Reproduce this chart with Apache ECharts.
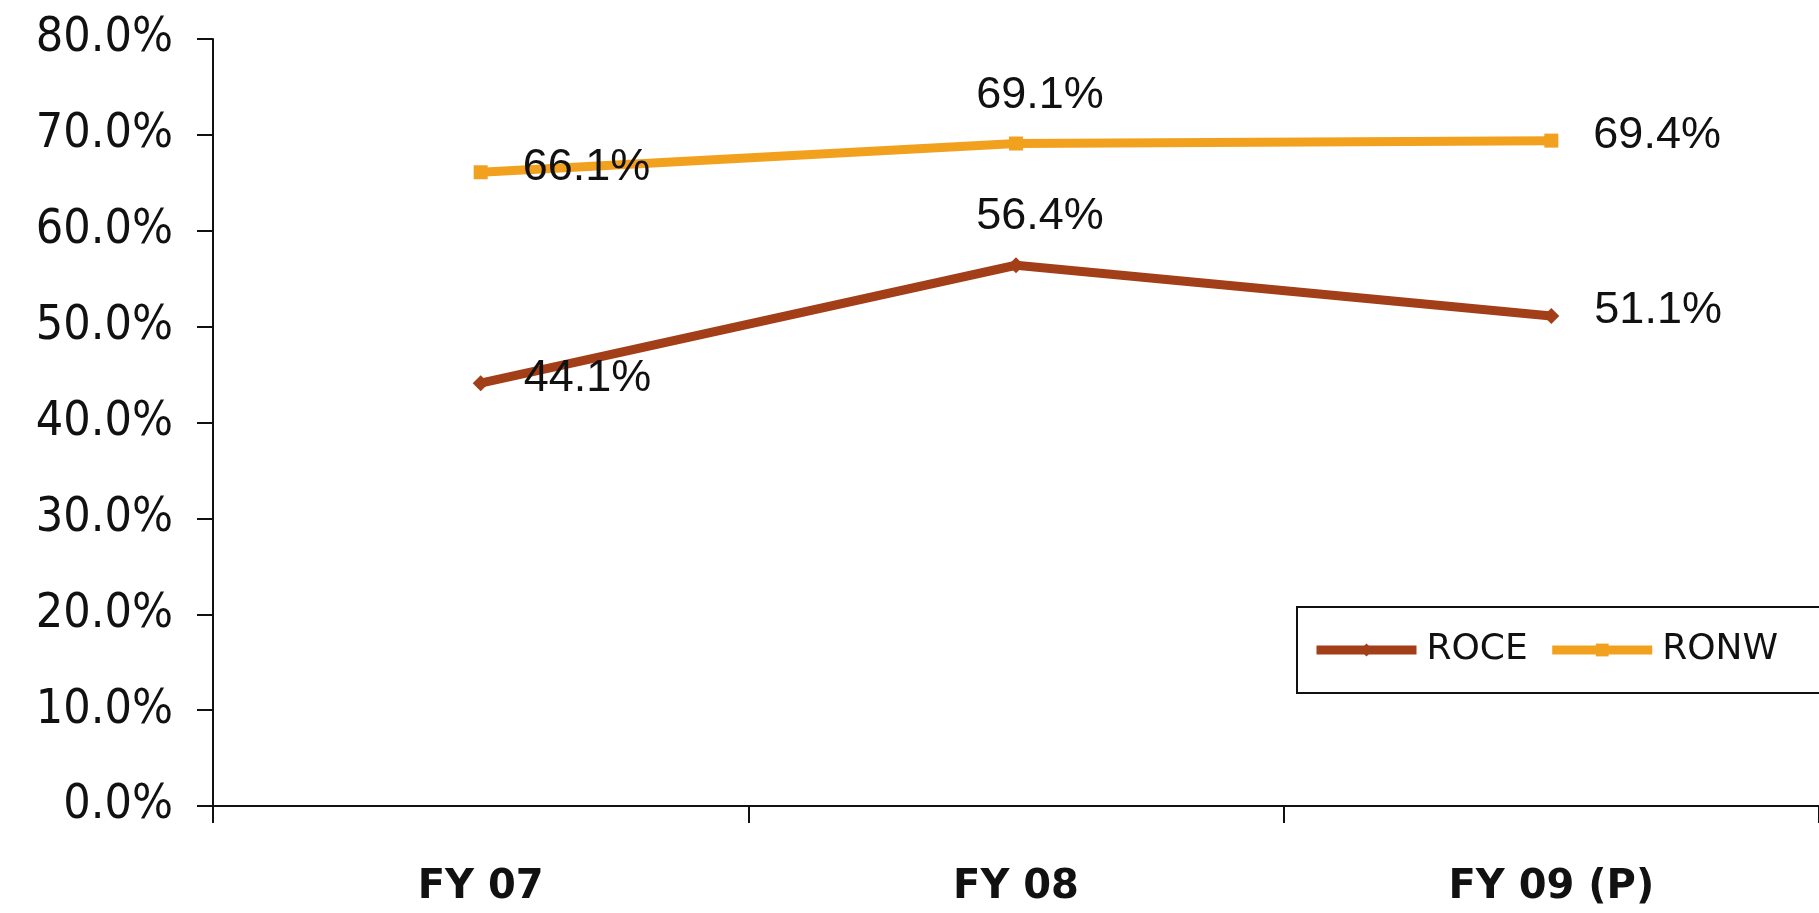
<!DOCTYPE html>
<html>
<head>
<meta charset="utf-8">
<script src="https://cdn.jsdelivr.net/npm/echarts@6/dist/echarts.min.js"></script>
<style>
html,body{margin:0;padding:0;background:#fff;}
#chart{width:1819px;height:913px;}
</style>
</head>
<body>
<div id="chart"></div>
<script>
const categories = ['FY 07', 'FY 08', 'FY 09 (P)'];
const seriesNames = ['ROCE', 'RONW'];
const roce = [44.1, 56.4, 51.1];
const ronw = [66.1, 69.1, 69.4];
const yTicks = [0, 10, 20, 30, 40, 50, 60, 70, 80];

const chart = echarts.init(document.getElementById('chart'));

function withLabels(values) {
  return values.map((v, i) => ({
    value: v,
    label: i === 1
      ? { position: 'top', distance: 18, offset: [24, 0] }
      : { position: 'right', distance: 35, offset: [0, -5] }
  }));
}

const labelStyle = {
  show: true,
  formatter: p => p.value.toFixed(1) + '%',
  fontFamily: 'Liberation Sans, Arial, sans-serif',
  fontSize: 45,
  color: '#111'
};

chart.setOption({
  animation: false,
  backgroundColor: '#fff',
  grid: { left: 213, top: 39, bottom: 107, width: 1615 },
  legend: {
    data: seriesNames,
    left: 1297,
    top: 607,
    width: 900,
    orient: 'horizontal',
    itemWidth: 100,
    itemHeight: 16,
    itemGap: 20,
    padding: [25, 80, 25, 15],
    borderColor: '#111',
    borderWidth: 2,
    backgroundColor: '#fff',
    lineStyle: { width: 9 },
    textStyle: {
      fontFamily: 'DejaVu Sans, Verdana, sans-serif',
      fontSize: 36,
      color: '#111',
      padding: [0, 0, 0, 5]
    }
  },
  xAxis: {
    type: 'category',
    data: categories,
    boundaryGap: true,
    axisLine: { lineStyle: { color: '#111', width: 2 } },
    axisTick: { show: true, length: 17, lineStyle: { color: '#111', width: 2 } },
    axisLabel: {
      margin: 62,
      fontFamily: 'DejaVu Sans, Verdana, sans-serif',
      fontWeight: 'bold',
      fontSize: 40,
      color: '#111'
    }
  },
  yAxis: {
    type: 'value',
    min: yTicks[0],
    max: yTicks[yTicks.length - 1],
    interval: 10,
    splitLine: { show: false },
    axisLine: { show: true, lineStyle: { color: '#111', width: 2 } },
    axisTick: { show: true, length: 16, lineStyle: { color: '#111', width: 2 } },
    axisLabel: {
      margin: 40,
      formatter: v => v.toFixed(1) + '%',
      fontFamily: 'DejaVu Sans Condensed, DejaVu Sans, Verdana, sans-serif',
      fontSize: 48,
      color: '#111'
    }
  },
  series: [
    {
      name: seriesNames[0],
      type: 'line',
      data: withLabels(roce),
      symbol: 'diamond',
      symbolSize: 16,
      color: '#A23F18',
      lineStyle: { width: 9, color: '#A23F18' },
      itemStyle: { color: '#A23F18' },
      label: labelStyle,
      z: 3
    },
    {
      name: seriesNames[1],
      type: 'line',
      data: withLabels(ronw),
      symbol: 'rect',
      symbolSize: 14,
      color: '#F2A11E',
      lineStyle: { width: 9, color: '#F2A11E' },
      itemStyle: { color: '#F2A11E' },
      label: labelStyle,
      z: 3
    }
  ]
});
</script>
</body>
</html>
